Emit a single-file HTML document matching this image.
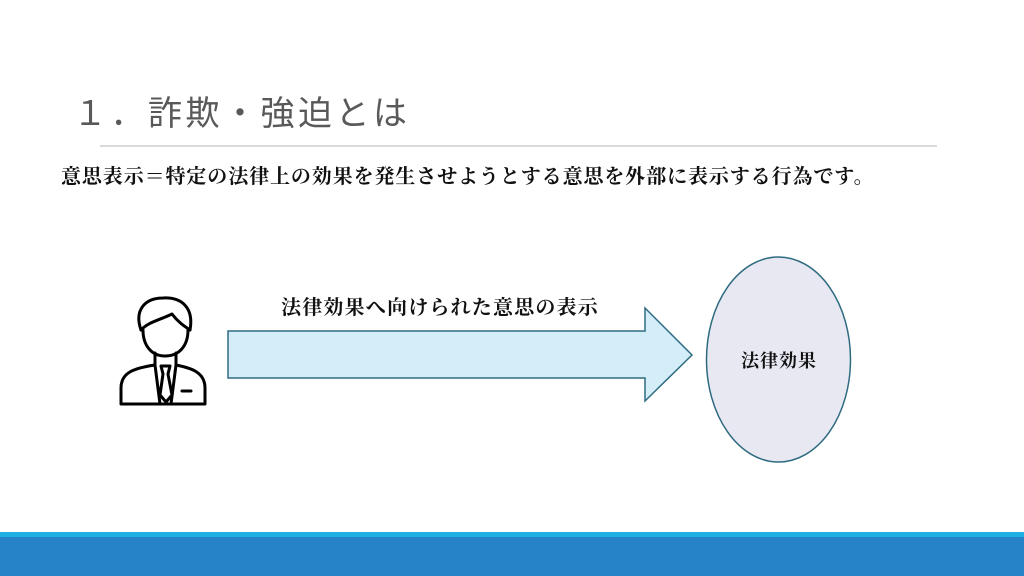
<!DOCTYPE html>
<html><head><meta charset="utf-8"><style>
body{margin:0;width:1024px;height:576px;position:relative;background:#fff;overflow:hidden}
.t{position:absolute;white-space:nowrap}
.title{left:73px;top:86px;font:34px "Liberation Sans","Noto Sans CJK JP",sans-serif;color:#595959;letter-spacing:3.5px}
.s{font-family:"Liberation Serif","Noto Serif CJK JP",serif;font-weight:bold;color:#111}
</style></head><body>
<div class="t title">１．詐欺・強迫とは</div>
<div style="position:absolute;left:100px;top:145px;width:837px;height:2px;background:#d9d9d9"></div>
<div class="t s" style="left:61px;top:160px;font-size:20px;letter-spacing:0.9px">意思表示＝特定の法律上の効果を発生させようとする意思を外部に表示する行為です。</div>
<div class="t s" style="left:281px;top:291px;font-size:20px;letter-spacing:1.2px">法律効果へ向けられた意思の表示</div>
<svg style="position:absolute;left:0;top:0" width="1024" height="576">
<polygon points="228,331 645,331 645,308 692,355 645,401 645,378 228,378" fill="#d4eef9" stroke="#2e6b80" stroke-width="1.5"/>
<ellipse cx="778.5" cy="359.5" rx="72" ry="102.5" fill="#e7e8f2" stroke="#2e6b80" stroke-width="1.5"/>
<g fill="none" stroke="#000" stroke-width="3" stroke-linejoin="round" stroke-linecap="round">
<path d="M141,330 C134,310 145,298 163,298 C182,297 194,308 190,330"/>
<path d="M141,330 C148,322 160,320 172,314 C178,322 184,326 190,330"/>
<path d="M143,330 C143,346 152,356 165,356 C179,356 188,346 188,330"/>
<path d="M155,353 L155,365 M176,353 L176,365"/>
<path d="M155,365 C135,368 121,372 121,388 L121,404 L205,404 L205,388 C205,372 191,368 176,365"/>
<path d="M155,365 L160,404 M176,365 L171,404"/>
<path d="M161,366 L170,366 L168,374 L172,395 L166,402 L160,395 L163,374 Z"/>
<path d="M182,391 L191,391"/>
</g>
</svg>
<div class="t s" style="left:741px;top:347px;font-size:18px;letter-spacing:1px">法律効果</div>
<div style="position:absolute;left:0;top:532px;width:1024px;height:5px;background:#1fb0e2"></div>
<div style="position:absolute;left:0;top:537px;width:1024px;height:39px;background:#2683c6"></div>
</body></html>
